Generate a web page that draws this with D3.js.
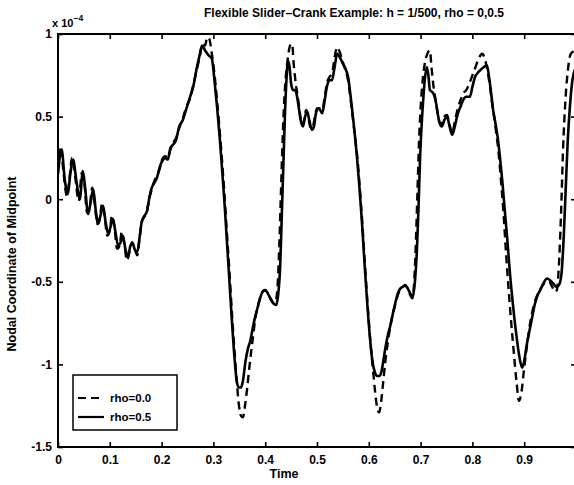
<!DOCTYPE html>
<html><head><meta charset="utf-8">
<script src="https://cdn.jsdelivr.net/npm/d3@7"></script>
<style>
body{margin:0;background:#fff;}
svg text{font-family:"Liberation Sans",Arial,sans-serif;font-weight:bold;fill:#000;}
</style></head>
<body><svg id="c" width="574" height="485"></svg>
<script>
const titleText = "Flexible Slider\u2013Crank Example: h = 1/500, rho = 0,0.5";
const xLabel = "Time";
const yLabel = "Nodal Coordinate of Midpoint";
const xTicks = [0,0.1,0.2,0.3,0.4,0.5,0.6,0.7,0.8,0.9];
const yTicks = [1,0.5,0,-0.5,-1,-1.5];
const seriesNames = ["rho=0.0","rho=0.5"];

// rho = 0.5 (solid)
const time05 = [0.000,0.007,0.013,0.019,0.024,0.029,0.036,0.042,0.048,0.053,0.058,0.063,0.068,0.073,0.077,0.082,0.087,0.092,0.097,0.102,0.106,0.111,0.116,0.121,0.125,0.130,0.135,0.140,0.144,0.149,0.153,0.158,0.162,0.167,0.172,0.177,0.181,0.186,0.191,0.196,0.201,0.207,0.212,0.217,0.222,0.228,0.234,0.241,0.248,0.255,0.261,0.267,0.274,0.278,0.284,0.291,0.297,0.302,0.307,0.312,0.317,0.322,0.326,0.331,0.336,0.341,0.345,0.349,0.353,0.357,0.362,0.367,0.371,0.376,0.380,0.385,0.390,0.395,0.400,0.405,0.410,0.416,0.421,0.425,0.429,0.432,0.435,0.438,0.441,0.444,0.447,0.450,0.454,0.458,0.461,0.465,0.469,0.473,0.477,0.481,0.485,0.490,0.494,0.498,0.502,0.506,0.510,0.515,0.519,0.524,0.529,0.534,0.539,0.544,0.550,0.555,0.560,0.565,0.570,0.574,0.577,0.582,0.587,0.592,0.597,0.602,0.607,0.612,0.616,0.620,0.624,0.627,0.632,0.637,0.642,0.646,0.651,0.656,0.661,0.666,0.670,0.675,0.680,0.685,0.689,0.693,0.696,0.699,0.702,0.705,0.708,0.712,0.715,0.718,0.722,0.726,0.730,0.734,0.738,0.741,0.746,0.751,0.756,0.761,0.766,0.772,0.777,0.782,0.788,0.795,0.800,0.805,0.809,0.815,0.822,0.828,0.833,0.837,0.840,0.845,0.849,0.853,0.858,0.862,0.867,0.872,0.878,0.884,0.890,0.896,0.900,0.905,0.910,0.915,0.921,0.926,0.931,0.937,0.944,0.950,0.956,0.962,0.967,0.972,0.976,0.980,0.984,0.988,0.993,1.000];
const rho05 = [0.15,0.30,0.12,0.03,0.16,0.24,0.10,0.00,0.17,0.05,-0.09,-0.02,0.06,-0.07,-0.15,-0.10,-0.04,-0.14,-0.21,-0.16,-0.12,-0.20,-0.28,-0.26,-0.22,-0.30,-0.35,-0.28,-0.27,-0.31,-0.32,-0.22,-0.13,-0.10,-0.07,0.02,0.07,0.10,0.13,0.19,0.23,0.25,0.24,0.31,0.33,0.36,0.44,0.48,0.55,0.62,0.68,0.78,0.88,0.93,0.90,0.87,0.85,0.72,0.56,0.38,0.17,-0.05,-0.25,-0.50,-0.75,-0.97,-1.10,-1.14,-1.14,-1.10,-0.98,-0.90,-0.86,-0.78,-0.72,-0.66,-0.60,-0.56,-0.55,-0.57,-0.60,-0.63,-0.64,-0.58,-0.40,-0.10,0.20,0.50,0.72,0.84,0.80,0.70,0.66,0.66,0.63,0.55,0.47,0.44,0.50,0.53,0.48,0.42,0.44,0.52,0.55,0.54,0.52,0.60,0.68,0.72,0.72,0.80,0.88,0.86,0.82,0.79,0.74,0.62,0.48,0.36,0.26,0.07,-0.15,-0.40,-0.63,-0.83,-0.98,-1.05,-1.07,-1.07,-1.05,-1.00,-0.90,-0.82,-0.76,-0.70,-0.63,-0.57,-0.54,-0.53,-0.52,-0.54,-0.57,-0.59,-0.50,-0.30,-0.05,0.25,0.45,0.60,0.72,0.80,0.75,0.66,0.65,0.63,0.58,0.50,0.45,0.44,0.48,0.50,0.44,0.39,0.44,0.52,0.56,0.60,0.62,0.62,0.68,0.74,0.76,0.78,0.80,0.81,0.72,0.62,0.54,0.45,0.37,0.26,0.10,-0.05,-0.23,-0.43,-0.63,-0.80,-0.94,-1.02,-0.98,-0.88,-0.80,-0.72,-0.63,-0.58,-0.55,-0.51,-0.48,-0.49,-0.51,-0.53,-0.52,-0.45,-0.25,0.05,0.35,0.55,0.72,0.80];

// rho = 0.0 (dashed)
const time00 = [0.000,0.005,0.011,0.017,0.022,0.027,0.033,0.040,0.046,0.051,0.056,0.061,0.066,0.071,0.076,0.080,0.085,0.090,0.095,0.100,0.104,0.109,0.114,0.119,0.123,0.128,0.133,0.138,0.143,0.148,0.153,0.157,0.161,0.166,0.171,0.176,0.181,0.186,0.191,0.196,0.201,0.207,0.212,0.217,0.222,0.228,0.234,0.241,0.248,0.255,0.261,0.267,0.274,0.279,0.284,0.288,0.292,0.297,0.302,0.307,0.312,0.317,0.322,0.326,0.331,0.336,0.341,0.345,0.349,0.353,0.357,0.361,0.365,0.369,0.373,0.377,0.381,0.385,0.390,0.395,0.400,0.405,0.410,0.416,0.420,0.424,0.427,0.430,0.433,0.436,0.440,0.444,0.448,0.452,0.455,0.459,0.463,0.467,0.471,0.475,0.479,0.483,0.488,0.492,0.496,0.500,0.505,0.510,0.515,0.519,0.524,0.529,0.534,0.539,0.544,0.550,0.555,0.560,0.565,0.570,0.574,0.578,0.583,0.588,0.593,0.598,0.603,0.608,0.612,0.616,0.620,0.624,0.628,0.632,0.637,0.642,0.646,0.651,0.656,0.661,0.666,0.670,0.675,0.680,0.684,0.688,0.691,0.694,0.697,0.700,0.704,0.708,0.713,0.718,0.721,0.725,0.729,0.733,0.737,0.741,0.746,0.751,0.756,0.761,0.766,0.772,0.777,0.782,0.788,0.794,0.800,0.806,0.812,0.819,0.824,0.829,0.834,0.838,0.842,0.846,0.850,0.855,0.860,0.865,0.870,0.875,0.880,0.885,0.890,0.895,0.900,0.906,0.912,0.918,0.924,0.930,0.936,0.942,0.948,0.954,0.959,0.963,0.967,0.971,0.975,0.980,0.985,0.990,1.000];
const rho00 = [0.18,0.32,0.15,0.02,0.12,0.25,0.14,-0.01,0.16,0.10,-0.08,-0.05,0.07,-0.03,-0.15,-0.13,-0.03,-0.10,-0.22,-0.19,-0.10,-0.17,-0.30,-0.28,-0.20,-0.27,-0.37,-0.32,-0.26,-0.30,-0.34,-0.25,-0.15,-0.11,-0.08,0.00,0.06,0.11,0.14,0.18,0.24,0.26,0.25,0.30,0.34,0.37,0.43,0.49,0.56,0.61,0.69,0.77,0.87,0.94,0.93,0.98,0.97,0.88,0.76,0.60,0.42,0.22,0.00,-0.20,-0.44,-0.70,-0.93,-1.10,-1.24,-1.31,-1.32,-1.25,-1.15,-1.03,-0.92,-0.82,-0.72,-0.66,-0.60,-0.56,-0.55,-0.57,-0.60,-0.63,-0.62,-0.52,-0.30,0.00,0.30,0.55,0.75,0.86,0.93,0.94,0.82,0.70,0.62,0.52,0.45,0.48,0.54,0.50,0.43,0.44,0.50,0.55,0.55,0.54,0.62,0.70,0.74,0.76,0.86,0.92,0.89,0.83,0.78,0.72,0.60,0.47,0.36,0.25,0.05,-0.17,-0.42,-0.65,-0.86,-1.03,-1.16,-1.26,-1.29,-1.22,-1.10,-0.98,-0.86,-0.76,-0.70,-0.64,-0.58,-0.55,-0.53,-0.52,-0.54,-0.58,-0.60,-0.48,-0.25,0.05,0.35,0.55,0.72,0.82,0.88,0.90,0.80,0.68,0.60,0.52,0.46,0.46,0.50,0.51,0.45,0.40,0.47,0.55,0.60,0.64,0.66,0.70,0.75,0.80,0.85,0.88,0.85,0.78,0.68,0.58,0.50,0.40,0.30,0.12,-0.08,-0.33,-0.55,-0.75,-0.93,-1.10,-1.22,-1.16,-1.02,-0.87,-0.74,-0.65,-0.59,-0.55,-0.52,-0.50,-0.50,-0.53,-0.56,-0.55,-0.40,-0.10,0.30,0.62,0.80,0.88,0.90];

const svg = d3.select("#c");
const L = 58, R = 576, T = 34, B = 447;
const x = d3.scaleLinear().domain([0, 1]).range([L, R]);
const y = d3.scaleLinear().domain([-1.5, 1]).range([B, T]);

svg.append("defs").append("clipPath").attr("id","clip")
  .append("rect").attr("x",L).attr("y",T).attr("width",R-L).attr("height",B-T);

const line = d3.line().curve(d3.curveMonotoneX).x(d => x(d[0])).y(d => y(d[1]));
const d00 = time00.map((t,i)=>[t,rho00[i]]);
const d05 = time05.map((t,i)=>[t,rho05[i]]);

const g = svg.append("g").attr("clip-path","url(#clip)");
g.append("path").datum(d00).attr("d",line).attr("fill","none")
  .attr("stroke","#000").attr("stroke-width",2.4).attr("stroke-dasharray","8,5");
g.append("path").datum(d05).attr("d",line).attr("fill","none")
  .attr("stroke","#000").attr("stroke-width",2.6);

// axes
const fmt = d => String(d);
const axB = svg.append("g").attr("transform",`translate(0,${B})`)
  .call(d3.axisBottom(x).tickValues(xTicks).tickSize(-5).tickSizeOuter(0).tickPadding(8).tickFormat(fmt));
const axT = svg.append("g").attr("transform",`translate(0,${T})`)
  .call(d3.axisTop(x).tickValues(xTicks).tickSize(-5).tickSizeOuter(0).tickFormat(""));
const axL = svg.append("g").attr("transform",`translate(${L},0)`)
  .call(d3.axisLeft(y).tickValues(yTicks).tickSize(-5).tickSizeOuter(0).tickPadding(6).tickFormat(fmt));
const axR = svg.append("g").attr("transform",`translate(${R},0)`)
  .call(d3.axisRight(y).tickValues(yTicks).tickSize(-5).tickSizeOuter(0).tickFormat(""));
[axB,axT,axL,axR].forEach(a=>{
  a.select(".domain").remove();
  a.selectAll("line").attr("stroke","#000").attr("stroke-width",1.6);
  a.selectAll("text").attr("font-size",12).attr("font-weight","bold")
    .attr("font-family","Liberation Sans, Arial, sans-serif").attr("fill","#000");
});
svg.append("rect").attr("x",L).attr("y",T).attr("width",R-L).attr("height",B-T)
  .attr("fill","none").attr("stroke","#000").attr("stroke-width",2);

// exponent
const ex = svg.append("text").attr("x",52).attr("y",27).attr("font-size",11);
ex.append("tspan").text("x 10");
ex.append("tspan").attr("dy",-6).attr("font-size",8.5).text("\u22124");

// title
svg.append("text").attr("x",354).attr("y",17).attr("text-anchor","middle")
  .attr("font-size",12).attr("textLength",300).attr("lengthAdjust","spacingAndGlyphs").text(titleText);
// x label
svg.append("text").attr("x",284).attr("y",478).attr("text-anchor","middle")
  .attr("font-size",12.5).text(xLabel);
// y label
svg.append("text").attr("transform","translate(16,264) rotate(-90)")
  .attr("text-anchor","middle").attr("font-size",12.5).text(yLabel);

// legend
const lg = svg.append("g");
lg.append("rect").attr("x",73).attr("y",375).attr("width",104).attr("height",55)
  .attr("fill","#fff").attr("stroke","#000").attr("stroke-width",1.5);
const rows = [{name:seriesNames[0],dash:"8,5",yy:398},{name:seriesNames[1],dash:null,yy:417}];
rows.forEach(r=>{
  lg.append("line").attr("x1",78).attr("x2",104).attr("y1",r.yy).attr("y2",r.yy)
    .attr("stroke","#000").attr("stroke-width",2.2).attr("stroke-dasharray",r.dash);
  lg.append("text").attr("x",110).attr("y",r.yy+4).attr("font-size",11.5).text(r.name);
});
</script></body></html>
